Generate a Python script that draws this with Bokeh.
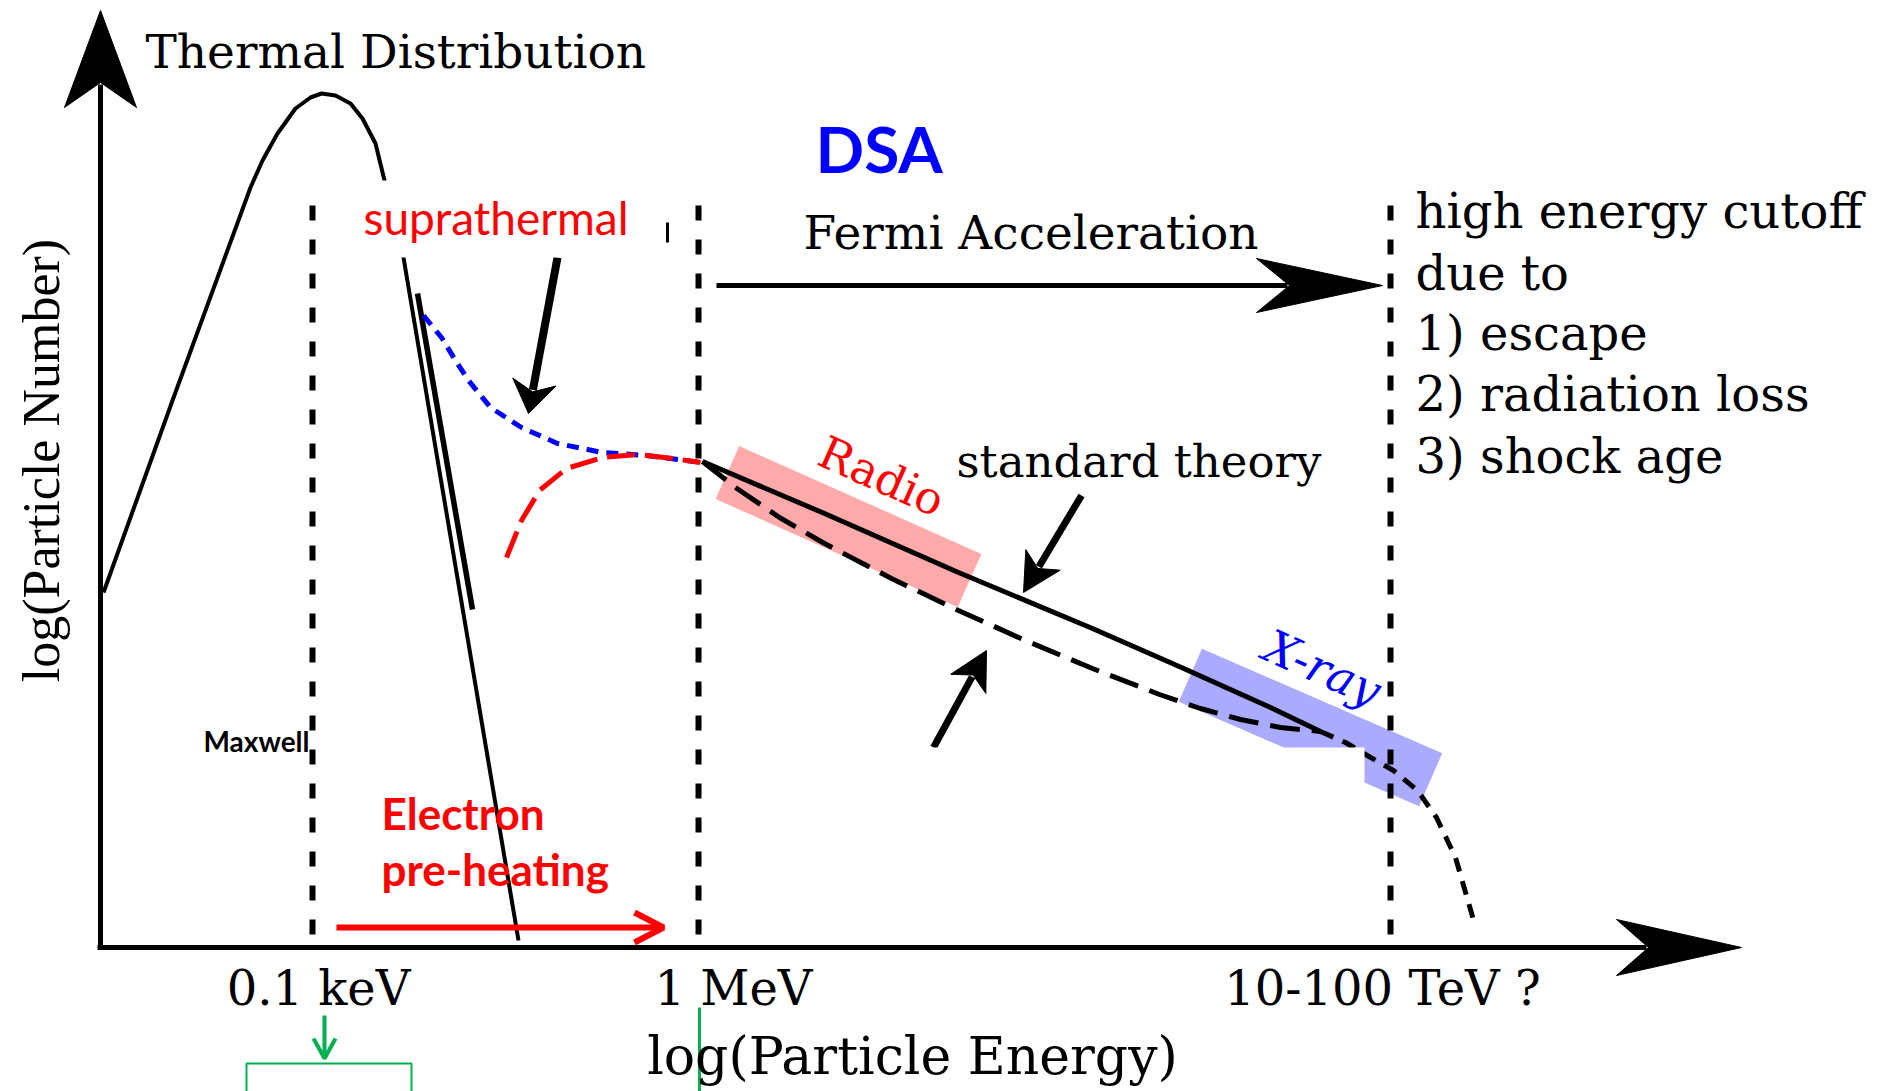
import math
from bokeh.plotting import figure
from bokeh.models import Range1d
from bokeh.embed import file_html
from bokeh.resources import INLINE
from bokeh.core.properties import value

# ---------------- schematic data (diagram units: x to the right, y downward) ----------------
# thermal (Maxwellian) distribution and its steep tail
thermal_x = [103, 172, 250, 262, 277, 295, 310, 321, 335, 350, 362, 375, 384, 394, 403, 518]
thermal_y = [592, 400, 187, 160, 133, 108, 97, 93, 95, 103, 118, 143, 180, 218, 257, 940]
maxwell_x = [417, 472]
maxwell_y = [293, 609]

# suprathermal tails
blue_x = [423, 441, 455, 468, 490, 521, 557, 602, 646, 700]
blue_y = [315, 337, 360, 380, 407, 427, 443, 452, 455, 462]
red_x = [506, 521, 539, 566, 602, 637, 673, 700]
red_y = [557, 520, 490, 468, 457, 454, 458, 462]

# DSA power laws
std_x = [702, 824, 958, 1092, 1181, 1270, 1320]
std_y = [461, 513, 572, 628, 667, 707, 731]
mod_x = [702, 735, 779, 824, 891, 958, 1025, 1092, 1159, 1200, 1240, 1280, 1320]
mod_y = [461, 487, 517, 543, 578, 610, 640, 668, 694, 708, 719, 727, 731]
cut_x = [1320, 1345, 1365, 1393, 1417, 1436, 1455, 1474]
cut_y = [731, 742, 754, 770, 790, 817, 857, 923]

# energy markers
marker_x = [312, 698, 1390]
marker_top, marker_bottom = 205, 940
tick_labels = ["0.1 keV", "1 MeV", "10-100 TeV ?"]
tick_label_x = [318, 733, 1382]

# observation bands: centre x, centre y, length, thickness, tilt (deg)
band_names = ["Radio", "X-ray"]
band_cx = [848, 1310]
band_cy = [526, 727]
band_len = [265, 262]
band_thk = [58, 58]
band_tilt = [24, 23.5]

cutoff_lines = ["high energy cutoff", "due to", "1) escape", "2) radiation loss", "3) shock age"]
cutoff_mid = [210, 272, 332, 393, 455]

SERIF = "DejaVu Serif"
SANS = "Lato"

p = figure(width=1898, height=1091, x_range=Range1d(0, 1898), y_range=Range1d(1091, 0),
           output_backend="svg", toolbar_location=None, min_border=0,
           x_axis_type=None, y_axis_type=None)
p.grid.visible = False
p.outline_line_color = None
p.background_fill_color = "white"
p.border_fill_color = "white"


def band_poly(cx, cy, L, W, tilt):
    a = math.radians(tilt)
    ux, uy = math.cos(a), math.sin(a)
    vx, vy = -uy, ux
    xs, ys = [], []
    for s, t in [(-1, -1), (1, -1), (1, 1), (-1, 1)]:
        xs.append(cx + s * L / 2 * ux + t * W / 2 * vx)
        ys.append(cy + s * L / 2 * uy + t * W / 2 * vy)
    return xs, ys


def stealth(start, tip, L, hw, notch):
    dx, dy = tip[0] - start[0], tip[1] - start[1]
    n = math.hypot(dx, dy)
    ux, uy = dx / n, dy / n
    vx, vy = -uy, ux
    tx, ty = tip
    xs = [tx, tx - L * ux + hw * vx, tx - notch * ux, tx - L * ux - hw * vx]
    ys = [ty, ty - L * uy + hw * vy, ty - notch * uy, ty - L * uy - hw * vy]
    return xs, ys


def open_head(start, tip, L, hw):
    dx, dy = tip[0] - start[0], tip[1] - start[1]
    n = math.hypot(dx, dy)
    ux, uy = dx / n, dy / n
    vx, vy = -uy, ux
    tx, ty = tip
    return ([tx - L * ux + hw * vx, tx, tx - L * ux - hw * vx],
            [ty - L * uy + hw * vy, ty, ty - L * uy - hw * vy])


# bands
band_colors = ["#FFAAAA", "#AAAAFF"]
for i in range(2):
    bx, by = band_poly(band_cx[i], band_cy[i], band_len[i], band_thk[i], band_tilt[i])
    p.patch(bx, by, fill_color=band_colors[i], line_color=None)

# energy markers
for mx in marker_x:
    p.line([mx, mx], [marker_top, marker_bottom], line_color="black", line_width=6, line_dash="15 19")

# curves
p.line(thermal_x, thermal_y, line_color="black", line_width=4)
p.line(maxwell_x, maxwell_y, line_color="black", line_width=5.5)
p.line(blue_x, blue_y, line_color="#0000FF", line_width=5, line_dash="12 8")
p.line(red_x, red_y, line_color="#FF0000", line_width=5, line_dash="28 10")
p.line(std_x, std_y, line_color="black", line_width=5)
p.line(mod_x, mod_y, line_color="black", line_width=5, line_dash="30 12")
p.line(cut_x, cut_y, line_color="black", line_width=5, line_dash="14 10")

# solid black arrows: (start, tip, head length, half width, notch, shaft width)
arrows = [
    ((100, 947), (100, 10), 97, 36, 72, 5),
    ((97, 947), (1741, 947), 125, 28, 93, 5),
    ((716, 285), (1382, 285), 126, 27, 93, 5),
    ((557, 257), (528, 413), 32, 22, 22, 8),
    ((1081, 495), (1023, 592), 38, 20, 28, 7),
    ((933, 747), (986, 650), 38, 20, 28, 7),
]
for st, tp, L, hw, nt, lw in arrows:
    hx, hy = stealth(st, tp, L, hw, nt)
    n = math.hypot(tp[0] - st[0], tp[1] - st[1])
    ex = tp[0] - (tp[0] - st[0]) / n * (nt + 2)
    ey = tp[1] - (tp[1] - st[1]) / n * (nt + 2)
    p.line([st[0], ex], [st[1], ey], line_color="black", line_width=lw)
    p.patch(hx, hy, fill_color="black", line_color="black", line_width=1)

# red pre-heating arrow
red_start, red_tip = (336, 927), (663, 927)
p.line([red_start[0], red_tip[0] - 3], [red_start[1], red_tip[1]], line_color="#FF0000", line_width=6)
hx, hy = open_head(red_start, red_tip, 29, 15)
p.line(hx, hy, line_color="#FF0000", line_width=6)

# green annotations at bottom
g_start, g_tip = (324, 1015), (324, 1058)
p.line([g_start[0], g_tip[0]], [g_start[1], g_tip[1]], line_color="#00B050", line_width=4)
hx, hy = open_head(g_start, g_tip, 20, 11)
p.line(hx, hy, line_color="#00B050", line_width=4)
p.quad(left=[246], right=[411], top=[1063], bottom=[1100], fill_color=None, line_color="#00B050", line_width=2)
p.line([699, 699], [1007, 1091], line_color="#00B050", line_width=3)

# white cover boxes (as in the original figure)
p.quad(left=[353], right=[652], top=[180], bottom=[257], fill_color="white", line_color=None)
p.quad(left=[716], right=[1364], top=[747], bottom=[900], fill_color="white", line_color=None)
p.line([667, 667], [222, 242], line_color="black", line_width=3)

# ---------------- texts (y = visual centre of the letters) ----------------
p.text(x=[145], y=[51], text=["Thermal Distribution"], text_font=value(SERIF), text_font_size="47px",
       text_color="black", text_baseline="alphabetic", text_align="left")
p.text(x=[803], y=[232], text=["Fermi Acceleration"], text_font=value(SERIF), text_font_size="47px",
       text_color="black", text_baseline="alphabetic", text_align="left")
p.text(x=[1415] * 5, y=cutoff_mid, text=cutoff_lines, text_font=value(SERIF), text_font_size="48px",
       text_color="black", text_baseline="alphabetic", text_align="left")
p.text(x=[956], y=[461], text=["standard theory"], text_font=value(SERIF), text_font_size="45px",
       text_color="black", text_baseline="alphabetic", text_align="left")
p.text(x=tick_label_x, y=[987] * 3, text=tick_labels, text_font=value(SERIF), text_font_size="48px",
       text_color="black", text_baseline="alphabetic", text_align="center")
p.text(x=[912], y=[1055], text=["log(Particle Energy)"], text_font=value(SERIF), text_font_size="52px",
       text_color="black", text_baseline="alphabetic", text_align="center")
p.text(x=[41], y=[460], text=["log(Particle Number)"], text_font=value("Liberation Serif"), text_font_size="52px",
       text_color="black", text_baseline="middle", text_align="center", angle=math.pi / 2)

p.text(x=[881], y=[476], text=["Radio"], text_font=value(SERIF), text_font_size="45px",
       text_color="#FF0000", text_baseline="alphabetic", text_align="center", angle=-math.radians(24))
p.text(x=[1322], y=[668], text=["X-ray"], text_font=value(SERIF), text_font_size="46px", text_font_style="italic",
       text_color="#0000FF", text_baseline="alphabetic", text_align="center", angle=-math.radians(24))

p.text(x=[815], y=[148], text=["DSA"], text_font=value(SANS), text_font_size="64px", text_font_style="bold",
       text_color="#0000FF", text_baseline="alphabetic", text_align="left")
p.text(x=[363], y=[217], text=["suprathermal"], text_font=value(SANS), text_font_size="46px",
       text_color="#FF0000", text_baseline="alphabetic", text_align="left")
p.text(x=[203], y=[740], text=["Maxwell"], text_font=value(SANS), text_font_size="28px", text_font_style="bold",
       text_color="black", text_baseline="alphabetic", text_align="left")
p.text(x=[381, 381], y=[812, 868], text=["Electron", "pre-heating"], text_font=value(SANS), text_font_size="44px",
       text_font_style="bold", text_color="#FF0000", text_baseline="alphabetic", text_align="left")

open("out.html", "w").write(file_html(p, INLINE))
